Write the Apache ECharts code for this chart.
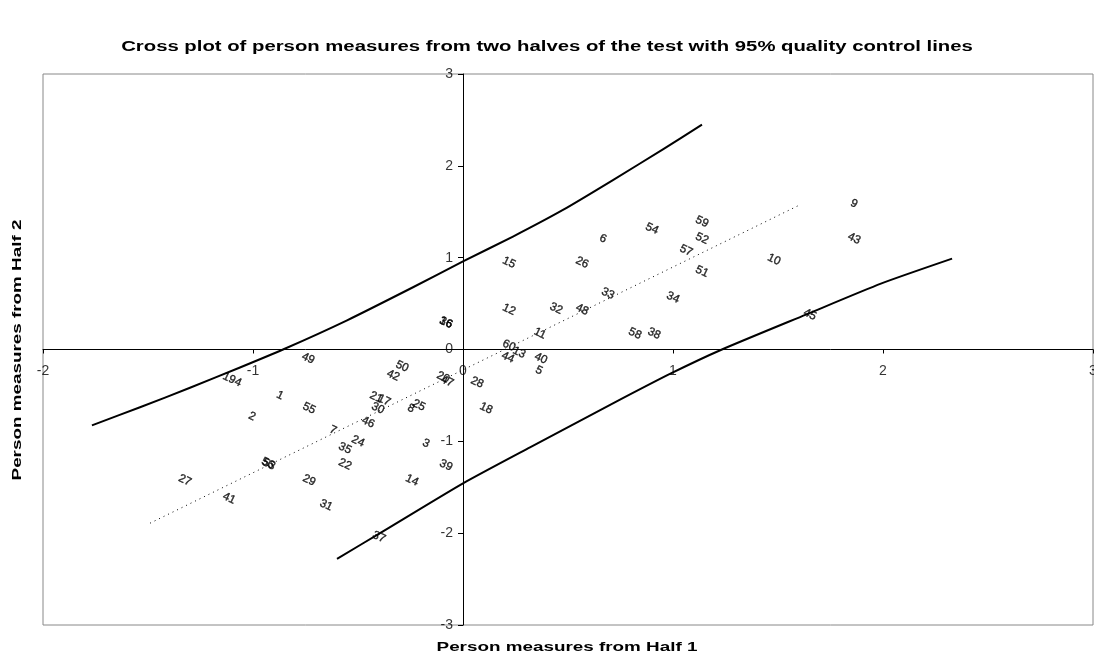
<!DOCTYPE html>
<html>
<head>
<meta charset="utf-8">
<script src="https://cdn.jsdelivr.net/npm/echarts@6/dist/echarts.min.js"></script>
<style>
html,body{margin:0;padding:0;background:#fff;}
#chart{width:1094px;height:657px;}
</style>
</head>
<body>
<div id="chart"></div>
<script>
// Person ids and measures
const personIds = ['1','2','3','4','5','6','7','8','9','10','11','12','13','14','15','16','17','18','19','20','21','22','24','25','26','27','28','29','30','31','32','33','34','35','36','37','38','39','40','41','42','43','44','45','46','47','48','49','50','51','52','53','54','55','56','57','58','59','60'];
const half1 = [-0.871,-1.005,-0.176,-1.071,0.362,0.667,-0.619,-0.248,1.862,1.481,0.367,0.219,0.267,-0.243,0.219,-0.081,-0.376,0.110,-1.114,-0.095,-0.414,-0.562,-0.500,-0.210,0.567,-1.324,0.067,-0.733,-0.405,-0.652,0.443,0.690,1.000,-0.562,-0.081,-0.400,0.910,-0.081,0.371,-1.114,-0.333,1.862,0.214,1.652,-0.452,-0.076,0.567,-0.738,-0.290,1.138,1.138,-0.924,0.900,-0.733,-0.929,1.062,0.819,1.138,0.219];
const half2 = [-0.500,-0.728,-1.022,-0.359,-0.228,1.207,-0.880,-0.641,1.587,0.978,0.174,0.435,-0.033,-1.424,0.946,0.293,-0.554,-0.641,-0.315,-0.304,-0.522,-1.250,-1.000,-0.609,0.946,-1.424,-0.359,-1.424,-0.641,-1.696,0.446,0.609,0.565,-1.076,0.293,-2.043,0.174,-1.261,-0.098,-1.620,-0.283,1.207,-0.087,0.380,-0.793,-0.348,0.435,-0.098,-0.185,0.848,1.207,-1.250,1.315,-0.641,-1.239,1.076,0.174,1.391,0.043];

// Trend line (dotted)
const trendX = [-1.490, 1.605];
const trendY = [-1.891, 1.576];

// Upper 95% control line
const upperX = [-1.767,-1.538,-1.300,-1.062,-0.857,-0.552,-0.238,0,0.238,0.476,0.714,0.952,1.138];
const upperY = [-0.826,-0.629,-0.417,-0.196,0.000,0.318,0.678,0.959,1.230,1.520,1.845,2.180,2.448];

// Lower 95% control line
const lowerX = [-0.600,-0.381,0,0.319,0.714,0.990,1.233,1.633,1.990,2.329];
const lowerY = [-2.280,-1.980,-1.457,-1.065,-0.587,-0.261,0,0.380,0.717,0.989];

// Tick labels
const xTicks = [-2,-1,0,1,2,3];
const yTicks = [-3,-2,-1,0,1,2,3];

const zip = (a,b) => a.map((v,i)=>[v,b[i]]);
const points = personIds.map((id,i)=>[half1[i], half2[i], id]);

const chart = echarts.init(document.getElementById('chart'));
const FONT = 'Liberation Sans, Arial, sans-serif';
const STRETCH = 1.45;
chart.setOption({
  animation:false,
  backgroundColor:'#ffffff',
  graphic:[
    {type:'text', x:547, y:47, scaleX:STRETCH, silent:true,
     style:{text:'Cross plot of person measures from two halves of the test with 95% quality control lines',
       font:'bold 14px '+FONT, fill:'#000', align:'center', verticalAlign:'middle', textAlign:'center', textVerticalAlign:'middle'}},
    {type:'text', x:567, y:647, scaleX:STRETCH, silent:true,
     style:{text:'Person measures from Half 1',
       font:'bold 13px '+FONT, fill:'#000', align:'center', verticalAlign:'middle', textAlign:'center', textVerticalAlign:'middle'}},
    {type:'text', x:17, y:350, rotation:Math.PI/2, scaleX:STRETCH, silent:true,
     style:{text:'Person measures from Half 2',
       font:'bold 13px '+FONT, fill:'#000', align:'center', verticalAlign:'middle', textAlign:'center', textVerticalAlign:'middle'}}
  ],
  grid:{left:43,right:1,top:74,bottom:32,show:true,borderColor:'#888',borderWidth:1,containLabel:false,outerBoundsMode:'none'},
  xAxis:{
    type:'value', min:-2, max:3, interval:1,
    axisLine:{onZero:true, lineStyle:{color:'#000',width:1}},
    axisTick:{show:true,length:4,lineStyle:{color:'#000'}},
    axisLabel:{show:false},
    splitLine:{show:false}
  },
  yAxis:{
    type:'value', min:-3, max:3, interval:1,
    axisLine:{onZero:true, lineStyle:{color:'#000',width:1}},
    axisTick:{show:true,length:5,lineStyle:{color:'#000'}},
    axisLabel:{show:false},
    splitLine:{show:false}
  },
  series:[
    {type:'line', data:zip(upperX,upperY), smooth:0.2, showSymbol:false, silent:true,
     lineStyle:{color:'#000',width:2,join:'round'}},
    {type:'line', data:zip(lowerX,lowerY), smooth:0.2, showSymbol:false, silent:true,
     lineStyle:{color:'#000',width:2,join:'round'}},
    {type:'line', data:zip(trendX,trendY), showSymbol:false, silent:true,
     lineStyle:{color:'#000',width:1,type:[1,4]}},
    {type:'scatter', data:points, symbolSize:0, silent:true, clip:false,
     label:{show:true, position:'inside', rotate:-25, formatter:p=>p.value[2],
       fontFamily:FONT, fontSize:11.5, color:'#000', textBorderColor:'#000', textBorderWidth:0.4},
     labelLayout:{hideOverlap:false}},
    // x tick labels
    {type:'scatter', data:xTicks.map(v=>[v,0]), symbolSize:0, silent:true, clip:false,
     label:{show:true, position:'bottom', distance:15, formatter:p=>String(p.value[0]),
       fontFamily:FONT, fontSize:14, color:'#000'},
     labelLayout:{hideOverlap:false}},
    // y tick labels
    {type:'scatter', data:yTicks.map(v=>[0,v]), symbolSize:0, silent:true, clip:false,
     label:{show:true, position:'left', distance:10, formatter:p=>String(p.value[1]),
       fontFamily:FONT, fontSize:14, color:'#000'},
     labelLayout:{hideOverlap:false}}
  ]
});
</script>
</body>
</html>
